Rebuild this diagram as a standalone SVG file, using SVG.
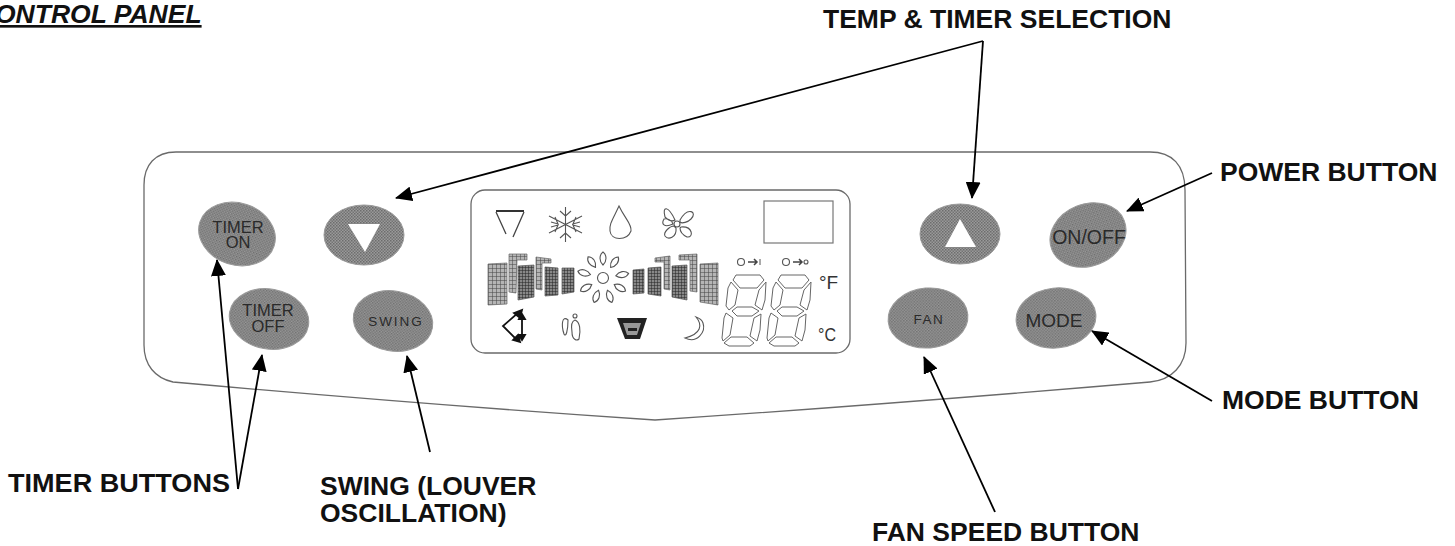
<svg xmlns="http://www.w3.org/2000/svg" width="1455" height="546" viewBox="0 0 1455 546">
<style>
.lb{font-family:"Liberation Sans",Arial,sans-serif;font-weight:700;font-size:26.5px;fill:#111}
.bt{font-family:"Liberation Sans",Arial,sans-serif;font-size:16.5px;fill:#2a2a2a;text-anchor:middle}
.btn{fill:url(#dith);stroke:#9a9a9a;stroke-width:1}
.out{fill:none;stroke:#6a6a6a;stroke-width:1.3}
.ic{fill:none;stroke:#555;stroke-width:1.1}
.bar{fill:url(#grid);stroke:#666;stroke-width:.7}
.bar2{fill:url(#grid2);stroke:#555;stroke-width:.7}
.con{fill:none;stroke:#000;stroke-width:1.8}
.seg{fill:#fff;stroke:#666;stroke-width:1}
</style>
<defs>
<pattern id="dith" width="3" height="3" patternUnits="userSpaceOnUse"><rect width="3" height="3" fill="#9a9a9a"/><rect width="1.5" height="1.5" fill="#6c6c6c"/><rect x="1.5" y="1.5" width="1.5" height="1.5" fill="#747474"/></pattern>
<pattern id="grid" width="4" height="4" patternUnits="userSpaceOnUse"><rect width="4" height="4" fill="#b5b5b5"/><path d="M0 0H4M0 0V4" stroke="#444" stroke-width="1"/></pattern>
<pattern id="grid2" width="3" height="3" patternUnits="userSpaceOnUse"><rect width="3" height="3" fill="#888"/><path d="M0 0H3M0 0V3" stroke="#222" stroke-width="1"/></pattern>
<marker id="ah" markerWidth="17" markerHeight="15" refX="16" refY="7.5" orient="auto" markerUnits="userSpaceOnUse"><path d="M0 0L17 7.5L0 15Z" fill="#000"/></marker>
<g id="digit">
<polygon class="seg" points="736,275 760,275 764,280 757,288 740,288 733,280"/>
<polygon class="seg" points="731,282 738,290 735,305 729,310 726,306 728,288"/>
<polygon class="seg" points="766,282 765,300 762,310 755,305 759,290"/>
<polygon class="seg" points="732,311 737,307 752,307 759,311 752,316 737,316"/>
<polygon class="seg" points="726,313 733,318 730,335 723,341 722,338 724,318"/>
<polygon class="seg" points="761,314 760,330 757,341 750,336 754,318"/>
<polygon class="seg" points="731,337 747,337 754,343 750,346 729,346 724,343"/>
</g>
<path id="petal" class="ic" d="M0 -13C-4 -17 -4 -23 0 -26C4 -23 4 -17 0 -13Z"/>
</defs>
<rect width="1455" height="546" fill="#fff"/>
<g id="title"><text x="-5" y="23" style="font-family:'Liberation Sans',Arial,sans-serif;font-weight:700;font-style:italic;font-size:26.5px;fill:#111;text-decoration:underline">ONTROL PANEL</text></g>
<g id="panel"><path class="out" d="M176 152H1150C1172 152 1185 165 1185 190L1186 343C1186 365 1172 380 1150 382Q880 405 655 420Q430 405 173 382C155 378 144 365 144 345L144 185C144 165 155 152 176 152Z"/></g>
<g id="lcd">
<rect x="471" y="190" width="379" height="163" rx="14" class="out"/>
<rect x="764" y="201" width="69" height="42" fill="#fff" stroke="#777" stroke-width="1.2"/>
<g id="lcd-cool"><path d="M496 211H524" stroke="#333" stroke-width="2"/><path d="M496 212L506 234M524 212L513 237" stroke-width="1.3" fill="none" stroke="#444"/></g>
<g id="lcd-snow" fill="none" stroke="#555" stroke-width="1.1"><path d="M565.500 207V242M549 216L582 233M549 233L582 216M560 211L565.500 216L571 211M560 238L565.500 233L571 238M551 222L558 224L555 217M580 222L573 224L576 217M551 227L558 225L555 232M580 227L573 225L576 232"/></g>
<path id="lcd-drop" class="ic" d="M619 206C613 219 609 224 610 231C611 241 627 241 631 231C632 224 625 219 619 206Z"/>
<g id="lcd-fan" class="ic"><circle cx="677" cy="224" r="3"/><path d="M675 220C668 205 662 206 665 217C668 220 672 222 675 220ZM680 220C688 206 698 212 691 219C688 222 682 224 680 222ZM681 227C693 226 694 238 687 237C683 235 680 232 680 228ZM676 228C677 238 668 240 665 236C663 232 670 226 674 226ZM673 224C664 228 661 224 664 219C667 218 672 220 673 224Z"/></g>
<g id="lcd-bars-left">
<polygon class="bar" points="488,264 507,263 507,304 488,305"/>
<polygon class="bar" points="509,254 527,254 527,260 517,260 516,293 509,292"/>
<polygon class="bar2" points="518,266 534,265 534,297 518,300"/>
<polygon class="bar" points="536,257 551,259 551,263 542,263 542,290 536,289"/>
<polygon class="bar2" points="545,267 558,268 558,295 545,296"/>
<polygon class="bar2" points="562,268 574,268 574,292 562,294"/>
</g>
<g id="lcd-bars-right">
<polygon class="bar2" points="633,270 644,269 644,293 633,294"/>
<polygon class="bar2" points="648,268 661,267 661,296 648,294"/>
<polygon class="bar" points="655,258 670,256 670,290 664,289 664,262 655,262"/>
<polygon class="bar2" points="672,266 687,265 687,300 672,297"/>
<polygon class="bar" points="679,255 697,254 697,292 690,291 690,260 679,260"/>
<polygon class="bar" points="700,264 718,263 718,305 700,302"/>
</g>
<g id="lcd-sun"><circle cx="603" cy="278" r="5.500" class="ic"/>
<use href="#petal" transform="translate(603 278) rotate(0)"/><use href="#petal" transform="translate(603 278) rotate(36)"/><use href="#petal" transform="translate(603 278) rotate(80)"/><use href="#petal" transform="translate(603 278) rotate(120)"/><use href="#petal" transform="translate(603 278) rotate(160)"/><use href="#petal" transform="translate(603 278) rotate(200)"/><use href="#petal" transform="translate(603 278) rotate(240)"/><use href="#petal" transform="translate(603 278) rotate(285)"/><use href="#petal" transform="translate(603 278) rotate(325)"/></g>
<g id="lcd-swing" fill="none" stroke="#111" stroke-width="1.8"><path d="M519 312L503 326L518 341M522 316V338"/><path d="M514 313L522 310L520 318ZM513 340L520 342L518 335ZM519 319L522 314L525 319ZM519 335L522 340L525 335Z" fill="#111"/></g>
<g id="lcd-person" class="ic"><path d="M568 320C562 315 561 325 564 334C566 338 568 330 568 320ZM575 320C572 321 571 326 572 332C572 340 577 341 579 339C581 330 580 322 575 320Z"/><circle cx="575" cy="316" r="2"/></g>
<g id="lcd-tank"><path d="M617 318L647 318L640 339H625Z" fill="#222"/><path d="M623 323H641L637 335H627Z" fill="#999"/><rect x="628" y="328" width="9" height="3" fill="#222"/></g>
<path id="lcd-moon" class="ic" d="M696 317C703 325 701 334 685 338C697 344 706 332 703 323C702 320 699 318 696 317Z"/>
<use href="#digit"/><use href="#digit" x="45"/>
<g id="lcd-clock1"><circle cx="741" cy="262" r="3.500" class="ic"/><path d="M748 262H757M754 259L757 262L754 265" fill="none" stroke="#444" stroke-width="1.500"/><path d="M760 259V265" stroke="#555"/></g>
<g id="lcd-clock2"><circle cx="786" cy="262" r="3.500" class="ic"/><path d="M793 262H802M799 259L802 262L799 265" fill="none" stroke="#444" stroke-width="1.500"/><circle cx="806" cy="262" r="2" class="ic"/></g>
<text x="819" y="289" style="font-family:'Liberation Sans',sans-serif;font-size:19px;fill:#333">°F</text>
<text x="818" y="341" style="font-family:'Liberation Sans',sans-serif;font-size:19px;fill:#333" textLength="18" lengthAdjust="spacingAndGlyphs">°C</text>
</g>
<g id="btn-timer-on"><ellipse class="btn" cx="237" cy="234" rx="39" ry="31" transform="rotate(18 237 234)"/><text class="bt" x="238" y="233">TIMER</text><text class="bt" x="238" y="248">ON</text></g>
<g id="btn-down"><ellipse class="btn" cx="364" cy="235" rx="40" ry="30"/><polygon points="348,224 380,224 365,252" fill="#fff"/></g>
<g id="btn-timer-off"><ellipse class="btn" cx="269" cy="319" rx="40" ry="30" transform="rotate(10 269 319)"/><text class="bt" x="268" y="316">TIMER</text><text class="bt" x="268" y="332">OFF</text></g>
<g id="btn-swing"><ellipse class="btn" cx="393" cy="321" rx="40" ry="30" transform="rotate(10 393 321)"/><text class="bt" x="396" y="326" style="font-size:13.5px;letter-spacing:2px">SWING</text></g>
<g id="btn-up"><ellipse class="btn" cx="960" cy="234" rx="40" ry="30"/><polygon points="945,247 976,247 960,219" fill="#fff"/></g>
<g id="btn-onoff"><ellipse class="btn" cx="1088" cy="235" rx="39" ry="31" transform="rotate(-22 1088 235)"/><text class="bt" x="1089" y="244" style="font-size:19.5px">ON/OFF</text></g>
<g id="btn-fan"><ellipse class="btn" cx="928" cy="318" rx="40" ry="30" transform="rotate(-5 928 318)"/><text class="bt" x="929" y="324" style="font-size:13.5px;letter-spacing:1.5px">FAN</text></g>
<g id="btn-mode"><ellipse class="btn" cx="1056" cy="318" rx="40" ry="30" transform="rotate(-6 1056 318)"/><text class="bt" x="1054" y="327" style="font-size:19px">MODE</text></g>
<g id="connectors">
<path class="con" marker-end="url(#ah)" d="M983 41L396 198"/>
<path class="con" marker-end="url(#ah)" d="M983 41L972 198"/>
<path class="con" marker-end="url(#ah)" d="M1212 173L1127 211"/>
<path class="con" marker-end="url(#ah)" d="M1212 401L1092 331"/>
<path class="con" marker-end="url(#ah)" d="M995 512L924 357"/>
<path class="con" marker-end="url(#ah)" d="M430 452L407 356"/>
<path class="con" marker-end="url(#ah)" d="M238 489L217 260"/>
<path class="con" marker-end="url(#ah)" d="M238 489L262 355"/>
</g>
<g id="labels">
<text class="lb" x="823" y="28">TEMP &amp; TIMER SELECTION</text>
<text class="lb" x="1220" y="181">POWER BUTTON</text>
<text class="lb" x="1222" y="409">MODE BUTTON</text>
<text class="lb" x="8" y="492" textLength="222" lengthAdjust="spacingAndGlyphs">TIMER BUTTONS</text>
<text class="lb" x="320" y="495">SWING (LOUVER</text>
<text class="lb" x="320" y="522">OSCILLATION)</text>
<text class="lb" x="872" y="541">FAN SPEED BUTTON</text>
</g>
</svg>
